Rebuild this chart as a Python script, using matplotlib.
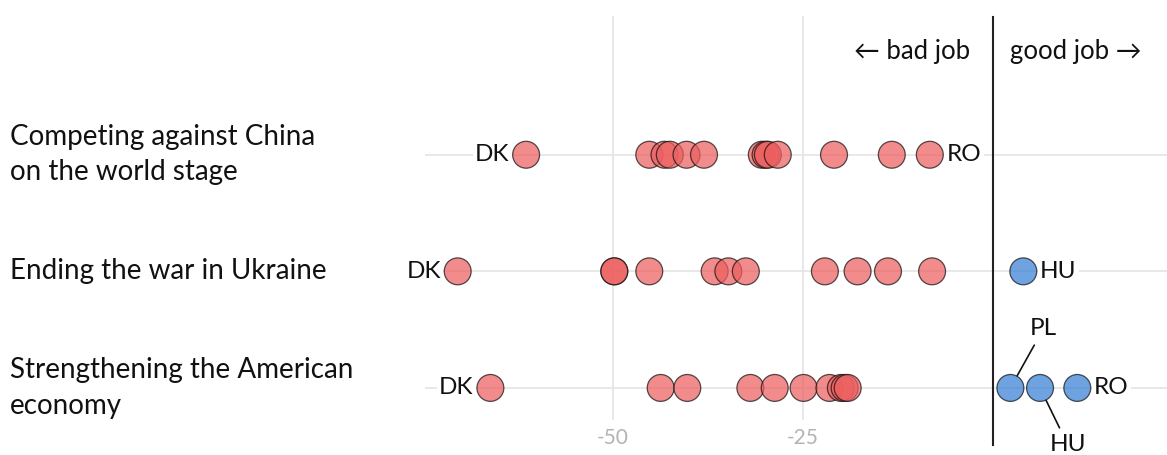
import matplotlib
matplotlib.use("Agg")
import matplotlib.pyplot as plt
from matplotlib.transforms import blended_transform_factory

plt.rcParams['font.family'] = ['Lato', 'DejaVu Sans']

# rows, top to bottom
topics = ["Competing against China\non the world stage",
          "Ending the war in Ukraine",
          "Strengthening the American\neconomy"]

# net scores (good job minus bad job)
china = [-61.4, -45.2, -43.2, -42.5, -40.3, -38.0, -30.4, -29.9, -29.6, -28.3, -20.9, -13.3, -8.3]
ukraine = [-70.4, -49.8, -49.8, -45.2, -36.6, -34.8, -32.5, -22.1, -17.8, -13.8, -8.0, 4.0]
economy = [-66.1, -43.7, -40.2, -31.9, -28.7, -24.9, -21.5, -20.0, -19.5, -19.1, 2.3, 6.2, 11.1]

# labelled countries: (row, value, label)
labels_right = [(0, -8.3, "RO"), (1, 4.0, "HU"), (2, 11.1, "RO")]
labels_left = [(0, -61.4, "DK"), (1, -70.4, "DK"), (2, -66.1, "DK")]

xticks = [-50, -25]

RED = "#ED5F5F"
BLUE = "#377FD4"

fig = plt.figure(figsize=(11.67, 4.55), dpi=100)
ax = fig.add_axes([425 / 1167, 35 / 455, 742 / 1167, 404 / 455])

row_y = {0: 2, 1: 1, 2: 0}
ax.set_xlim(-74.7, 22.9)
ax.set_ylim(-0.275, 3.19)

for yy in row_y.values():
    ax.axhline(yy, color="#e6e6e6", lw=1.3, zorder=0)
for t in xticks:
    ax.axvline(t, color="#e6e6e6", lw=1.3, zorder=0)
ax.axvline(0, ymin=-0.062, ymax=0.998, color="#222222", lw=1.5, clip_on=False, zorder=1)

for row, vals in zip(range(3), [china, ukraine, economy]):
    cols = [BLUE if v > 0 else RED for v in vals]
    ax.scatter(vals, [row_y[row]] * len(vals), s=375, c=cols, alpha=0.72,
               edgecolors="#111111", linewidths=0.9, zorder=3)

lab_kw = dict(fontsize=17.5, color="#111111", va="center", textcoords="offset points",
              bbox=dict(boxstyle="square,pad=0.1", fc="white", ec="none"), zorder=2)
for row, v, name in labels_right:
    ax.annotate(name, (v, row_y[row]), xytext=(12, 0), ha="left", **lab_kw)
for row, v, name in labels_left:
    ax.annotate(name, (v, row_y[row]), xytext=(-12, 0), ha="right", **lab_kw)

# leader-line labels for the crowded economy cluster
line_kw = dict(arrowstyle="-", color="#111111", lw=1.2, shrinkA=3, shrinkB=10)
ax.annotate("PL", (economy[-3], row_y[2]), xytext=(24, 43), textcoords="offset points",
            ha="center", va="center", fontsize=17.5, color="#111111", arrowprops=line_kw,
            annotation_clip=False)
ax.annotate("HU", (economy[-2], row_y[2]), xytext=(20, -41), textcoords="offset points",
            ha="center", va="center", fontsize=17.5, color="#111111", arrowprops=line_kw,
            annotation_clip=False)

ax.text(-2.97, 2.884, "\u2190 bad job", ha="right", va="center", fontsize=18.5, color="#111111")
ax.text(2.3, 2.884, "good job \u2192", ha="left", va="center", fontsize=18.5, color="#111111")

trans = blended_transform_factory(fig.transFigure, ax.transData)
for row, name in enumerate(topics):
    ax.text(10 / 1167, row_y[row], name, transform=trans, ha="left", va="center",
            fontsize=20, color="#111111", linespacing=1.45)

ax.set_xticks(xticks)
ax.set_xticklabels([str(t) for t in xticks])
ax.tick_params(axis="x", length=0, pad=6, labelsize=15, labelcolor="#b3b3b3")
ax.set_yticks([])
for sp in ax.spines.values():
    sp.set_visible(False)

fig.savefig("out.png", dpi=100)
